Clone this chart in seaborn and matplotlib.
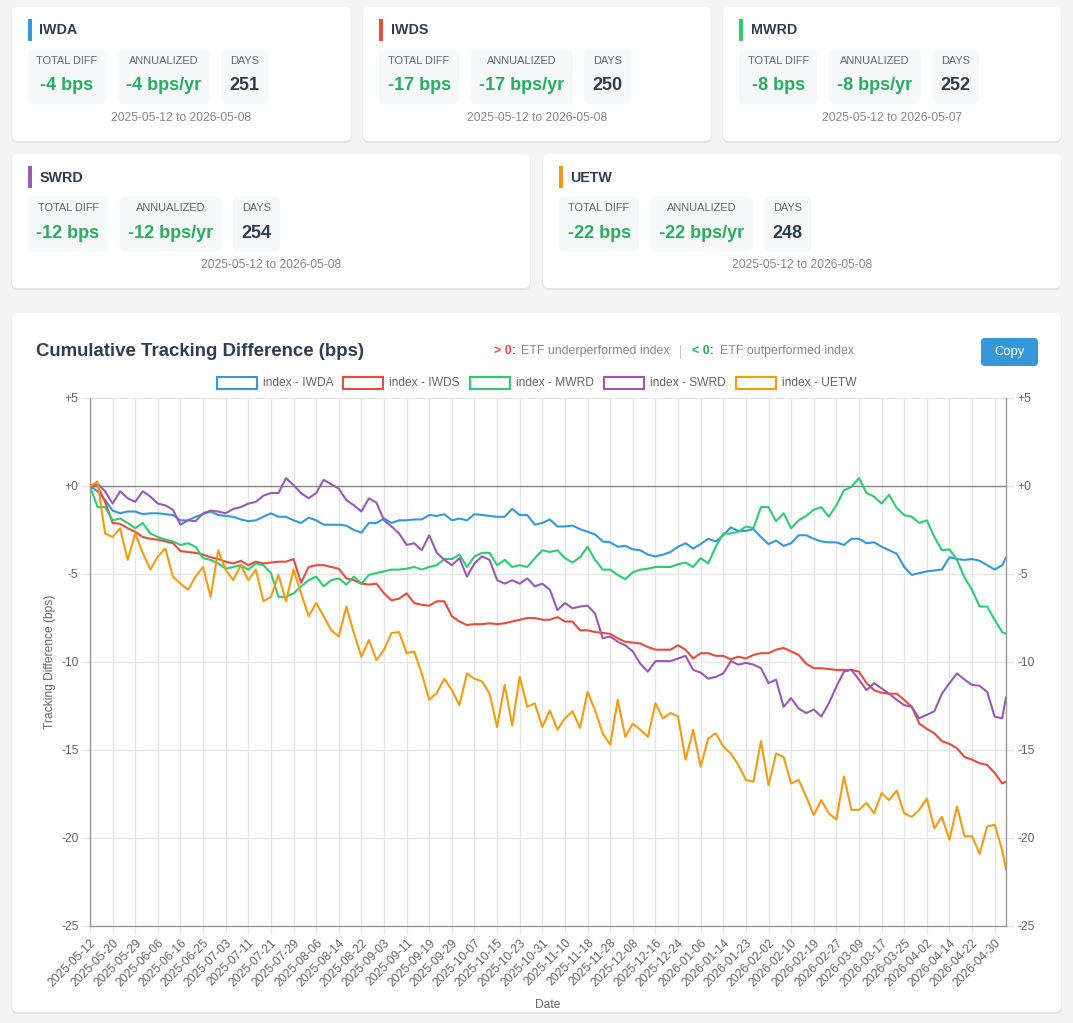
import matplotlib
matplotlib.use("Agg")
import matplotlib.pyplot as plt
from matplotlib.patches import FancyBboxPatch, Rectangle
import numpy as np
import pandas as pd
import seaborn as sns

# cumulative tracking difference (bps), every 2nd trading day
day_idx = list(range(0, 243, 2)) + [243]

iwda = [0.0, -0.3, -0.8, -1.4, -1.55, -1.45, -1.45, -1.6, -1.55, -1.55, -1.6, -1.65, -1.95, -1.95, -1.75,
        -1.6, -1.45, -1.65, -1.7, -1.75, -1.9, -2.0, -1.95, -1.75, -1.55, -1.75, -1.75, -1.95, -2.1, -1.8,
        -1.95, -2.2, -2.2, -2.2, -2.25, -2.5, -2.65, -2.1, -2.1, -1.85, -2.1, -1.95, -1.95, -1.9, -1.9,
        -1.65, -1.7, -1.6, -1.95, -1.85, -1.95, -1.6, -1.65, -1.7, -1.75, -1.75, -1.3, -1.65, -1.65, -2.2, -2.1,
        -1.9, -2.3, -2.3, -2.25, -2.45, -2.6, -2.75, -3.15, -3.2, -3.45, -3.4, -3.6, -3.65, -3.9, -4.0,
        -3.9, -3.75, -3.45, -3.25, -3.55, -3.3, -3.0, -3.15, -2.8, -2.35, -2.55, -2.55, -2.45, -2.9, -3.3,
        -3.1, -3.4, -3.25, -2.8, -2.8, -3.0, -3.15, -3.2, -3.2, -3.35, -3.0, -3.0, -3.25, -3.2, -3.45, -3.65,
        -3.85, -4.6, -5.05, -4.95, -4.85, -4.8, -4.75, -4.05, -4.15, -4.2, -4.15, -4.25, -4.5, -4.75, -4.5, -4.05]

iwds = [0.0, 0.0, -0.9, -2.1, -2.15, -2.4, -2.6, -2.9, -3.0, -3.05, -3.15, -3.25, -3.7, -3.75, -3.8,
        -3.9, -4.05, -4.15, -4.3, -4.4, -4.25, -4.5, -4.3, -4.4, -4.35, -4.3, -4.3, -4.15, -5.5, -4.6,
        -4.5, -4.5, -4.6, -4.7, -5.25, -5.35, -5.55, -5.6, -5.55, -6.1, -6.5, -6.4, -6.1, -6.65, -6.75,
        -6.8, -6.55, -6.55, -7.4, -7.7, -7.9, -7.85, -7.85, -7.8, -7.85, -7.8, -7.7, -7.6, -7.5, -7.5, -7.6,
        -7.6, -7.45, -7.7, -7.7, -8.2, -8.2, -8.3, -8.35, -8.4, -8.65, -8.85, -8.9, -8.95, -9.15, -9.3,
        -9.3, -9.3, -9.05, -9.3, -9.8, -9.5, -9.5, -9.65, -9.65, -9.85, -9.7, -9.8, -9.6, -9.5, -9.5,
        -9.3, -9.2, -9.4, -9.6, -10.1, -10.35, -10.35, -10.4, -10.45, -10.45, -10.45, -10.55, -11.2, -11.6,
        -11.75, -11.8, -11.8, -12.15, -12.55, -13.5, -13.8, -14.05, -14.5, -14.65, -14.9, -15.4, -15.55,
        -15.75, -15.85, -16.3, -16.9, -16.8]

mwrd = [0.0, -1.2, -1.2, -1.95, -1.85, -2.1, -2.4, -2.1, -2.7, -2.9, -3.05, -3.15, -3.35, -3.25, -3.45,
        -4.1, -4.2, -4.4, -4.7, -4.6, -4.5, -4.75, -4.4, -4.5, -4.95, -6.3, -6.3, -6.1, -5.7, -5.35,
        -5.15, -5.7, -5.35, -5.25, -5.6, -5.15, -5.55, -5.05, -4.95, -4.85, -4.75, -4.75, -4.7, -4.6, -4.75,
        -4.6, -4.5, -4.15, -4.15, -3.9, -4.6, -4.0, -3.8, -3.8, -4.5, -4.2, -4.6, -4.5, -4.6, -4.1, -3.65,
        -3.75, -3.65, -4.1, -4.35, -4.05, -3.45, -4.2, -4.75, -4.75, -5.05, -5.3, -4.9, -4.75, -4.7, -4.6,
        -4.6, -4.6, -4.45, -4.35, -4.6, -4.1, -4.4, -3.45, -2.7, -2.7, -2.6, -2.3, -2.4, -1.2, -1.2,
        -2.0, -1.55, -2.4, -1.95, -1.7, -1.35, -1.2, -1.75, -1.1, -0.25, -0.05, 0.45, -0.4, -0.6, -1.0,
        -0.5, -1.25, -1.65, -1.75, -2.1, -1.95, -2.9, -3.65, -3.6, -4.2, -5.2, -5.9, -6.85, -6.85, -7.6,
        -8.3, -8.4]

swrd = [0.0, 0.15, -0.3, -1.0, -0.3, -0.7, -0.9, -0.3, -0.6, -1.0, -1.1, -1.35, -2.2, -1.95, -2.0,
        -1.55, -1.4, -1.45, -1.55, -1.3, -1.2, -1.0, -0.9, -0.55, -0.4, -0.4, 0.45, 0.05, -0.4, -0.7,
        -0.4, 0.35, 0.1, -0.15, -0.8, -1.1, -1.45, -0.7, -0.95, -1.95, -2.3, -2.7, -3.35, -3.25, -3.65,
        -2.8, -3.8, -4.2, -4.5, -4.1, -5.15, -4.4, -4.0, -4.2, -5.35, -5.55, -5.35, -5.55, -5.25, -5.7, -5.55,
        -5.9, -7.05, -6.65, -6.95, -6.85, -6.8, -7.25, -8.65, -8.55, -8.85, -9.05, -9.4, -10.1, -10.55,
        -9.95, -9.95, -9.95, -9.8, -9.65, -10.45, -10.6, -10.95, -10.85, -10.65, -9.95, -10.15, -10.05,
        -10.15, -10.35, -11.2,
        -11.0, -12.55, -12.05, -12.65, -12.9, -12.7, -13.1, -12.35, -11.4, -10.55, -10.45, -11.0, -11.6,
        -11.2, -11.5, -11.8, -12.15, -12.45, -12.55, -13.2, -13.0, -12.8, -11.8, -11.2, -10.65, -11.0,
        -11.3, -11.35, -11.7, -13.1, -13.2, -12.0]

uetw = [0.0, 0.25, -2.7, -2.9, -2.4, -4.2, -2.7, -3.8, -4.75, -4.0, -3.55, -5.15, -5.55, -5.9, -5.15,
        -4.6, -6.3, -3.65, -4.75, -5.35, -4.5, -5.35, -4.75, -6.55, -6.3, -5.05, -6.55, -4.75, -6.1, -7.4,
        -6.65, -7.4, -8.2, -8.55, -6.85, -8.35, -9.7, -8.75, -9.9, -9.3, -8.35, -8.3, -9.5, -9.4, -10.65,
        -12.15, -11.75, -10.95, -11.6, -12.45, -10.65, -10.95, -11.1, -11.8, -13.7, -11.3, -13.6, -10.85,
        -12.55, -12.35, -13.7,
        -12.75, -13.85, -13.2, -12.8, -13.75, -11.7, -12.75, -14.05, -14.7, -12.15, -14.25, -13.5, -13.85,
        -14.25, -12.35, -13.2, -12.9, -13.1, -15.55, -13.85, -15.95, -14.35, -14.05, -14.8, -15.2, -15.85,
        -16.7, -16.8, -14.5, -17.0,
        -15.2, -15.4, -16.9, -16.7, -17.65, -18.7, -17.85, -18.6, -18.95, -16.5, -18.4, -18.4, -18.0, -18.6,
        -17.45, -17.85, -17.3, -18.6, -18.8, -18.4, -17.75, -19.45, -18.8, -20.1, -18.2, -19.9, -19.9, -20.9,
        -19.35, -19.25, -20.7, -21.8]

etfs = ["IWDA", "IWDS", "MWRD", "SWRD", "UETW"]
colors = ["#3498db", "#e74c3c", "#2ecc71", "#9b59b6", "#f39c12"]
total_diff = [-4, -17, -8, -12, -22]
annualized = [-4, -17, -8, -12, -22]
days = [251, 250, 252, 254, 248]
start_dates = ["2025-05-12", "2025-05-12", "2025-05-12", "2025-05-12", "2025-05-12"]
end_dates = ["2026-05-08", "2026-05-08", "2026-05-07", "2026-05-08", "2026-05-08"]

date_ticks = ["2025-05-12", "2025-05-20", "2025-05-29", "2025-06-06", "2025-06-16", "2025-06-25",
              "2025-07-03", "2025-07-11", "2025-07-21", "2025-07-29", "2025-08-06", "2025-08-14",
              "2025-08-22", "2025-09-03", "2025-09-11", "2025-09-19", "2025-09-29", "2025-10-07",
              "2025-10-15", "2025-10-23", "2025-10-31", "2025-11-10", "2025-11-18", "2025-11-28",
              "2025-12-08", "2025-12-16", "2025-12-24", "2026-01-06", "2026-01-14", "2026-01-23",
              "2026-02-02", "2026-02-10", "2026-02-19", "2026-02-27", "2026-03-09", "2026-03-17",
              "2026-03-25", "2026-04-02", "2026-04-14", "2026-04-22", "2026-04-30"]
y_ticks = [-25, -20, -15, -10, -5, 0, 5]
y_tick_labels = ["-25", "-20", "-15", "-10", "-5", "+0", "+5"]

W, H = 1073, 1023
sns.set_theme(style="white")
plt.rcParams["font.family"] = ["Liberation Sans", "DejaVu Sans"]


def px(v):
    # css pixels -> points at 100 dpi
    return v * 0.72


fig = plt.figure(figsize=(W / 100, H / 100), dpi=100, facecolor="#f4f4f4")
bg = fig.add_axes([0, 0, 1, 1])
bg.set_xlim(0, W)
bg.set_ylim(H, 0)
bg.axis("off")
renderer = fig.canvas.get_renderer()


def text_w(t):
    return t.get_window_extent(renderer).width


def panel(x0, y0, x1, y1, r=6):
    bg.add_patch(FancyBboxPatch((x0 - 0.5, y0 + 1), x1 - x0 + 1, y1 - y0 + 1,
                                boxstyle=f"round,pad=0,rounding_size={r}", fc="#e4e4e4", ec="none", zorder=1))
    bg.add_patch(FancyBboxPatch((x0, y0), x1 - x0, y1 - y0,
                                boxstyle=f"round,pad=0,rounding_size={r}", fc="white", ec="none", zorder=2))


# summary cards
card_boxes = [(12, 7, 351, 141), (363, 7, 711, 141), (723, 7, 1061, 141),
              (12, 154, 530, 288), (543, 154, 1061, 288)]
for i, (x0, y0, x1, y1) in enumerate(card_boxes):
    panel(x0, y0, x1, y1)
    bg.add_patch(Rectangle((x0 + 16, y0 + 12), 4, 22, fc=colors[i], ec="none", zorder=3))
    bg.text(x0 + 27.5, y0 + 23.5, etfs[i], fontsize=px(14.3), fontweight="bold", color="#2c3e50",
            va="center", zorder=4)
    stats = [("TOTAL DIFF", f"{total_diff[i]} bps", "#27ae60"),
             ("ANNUALIZED", f"{annualized[i]} bps/yr", "#27ae60"),
             ("DAYS", str(days[i]), "#2c3e50")]
    x = x0 + 16
    for lab, val, vc in stats:
        t1 = bg.text(x, y0 + 54, lab, fontsize=px(11), color="#666666", ha="center", va="center", zorder=4)
        t2 = bg.text(x, y0 + 79, val, fontsize=px(18), fontweight="bold", color=vc,
                     ha="center", va="center", zorder=4)
        w = max(text_w(t1), text_w(t2)) + 17
        bg.add_patch(FancyBboxPatch((x, y0 + 43), w, 54, boxstyle="round,pad=0,rounding_size=5",
                                    fc="#f6f8fa", ec="none", zorder=3))
        t1.set_x(x + w / 2)
        t2.set_x(x + w / 2)
        x += w + 11.5
    bg.text((x0 + x1) / 2, y0 + 111, f"{start_dates[i]} to {end_dates[i]}", fontsize=px(12),
            color="#888888", ha="center", va="center", zorder=4)

# chart panel + header
panel(12, 313, 1061, 1012)
bg.text(36, 352, "Cumulative Tracking Difference (bps)", fontsize=px(18.6), fontweight="bold",
        color="#2c3e50", va="center", zorder=4)
bg.text(494, 351, "> 0:", fontsize=px(12.4), fontweight="bold", color="#e74c3c", va="center", zorder=4)
bg.text(521, 351, "ETF underperformed index", fontsize=px(12.4), color="#888888", va="center", zorder=4)
bg.plot([680, 680], [345, 358], color="#cccccc", lw=0.8, zorder=4)
bg.text(692, 351, "< 0:", fontsize=px(12.4), fontweight="bold", color="#27ae60", va="center", zorder=4)
bg.text(720, 351, "ETF outperformed index", fontsize=px(12.4), color="#888888", va="center", zorder=4)
bg.add_patch(FancyBboxPatch((981, 338), 57, 28, boxstyle="round,pad=0,rounding_size=4",
                            fc="#3498db", ec="none", zorder=3))
bg.text(1009.5, 352.5, "Copy", fontsize=px(13), color="white", ha="center", va="center", zorder=4)

# legend row
leg_labels = [f"index - {e}" for e in etfs]
leg_texts = []
total = 0
for lab in leg_labels:
    t = bg.text(0, 383, lab, fontsize=px(12), color="#666666", va="center", zorder=4)
    leg_texts.append(t)
    total += 40 + 6 + text_w(t)
total += 10 * (len(leg_labels) - 1)
lx = 536.5 - total / 2
for c, t in zip(colors, leg_texts):
    bg.add_patch(Rectangle((lx, 377), 40, 12, fc="white", ec=c, lw=1.5, zorder=4))
    t.set_x(lx + 46)
    lx += 46 + text_w(t) + 10

# line chart
df = pd.DataFrame({"day": day_idx, "index - IWDA": iwda, "index - IWDS": iwds, "index - MWRD": mwrd,
                   "index - SWRD": swrd, "index - UETW": uetw})
long_df = df.melt(id_vars="day", var_name="series", value_name="td")

ax = fig.add_axes([90 / W, 1 - 926 / H, 916 / W, 528 / H])
ax.set_facecolor("none")
sns.lineplot(data=long_df, x="day", y="td", hue="series", hue_order=leg_labels,
             palette=dict(zip(leg_labels, colors)), linewidth=1.5, estimator=None, sort=False,
             legend=False, ax=ax)
ax.axhline(0, color="#888888", lw=1, zorder=1.5)

ax.set_xlim(0, 243)
ax.set_ylim(-25, 5)
ax.set_xticks(np.arange(0, 241, 6))
ax.set_xticklabels(date_ticks, rotation=45, ha="right", rotation_mode="anchor")
ax.set_yticks(y_ticks)
ax.set_yticklabels(y_tick_labels)
ax.grid(True, color="#e6e6e6", lw=1)
ax.set_axisbelow(True)
for s in ["left", "right", "bottom"]:
    ax.spines[s].set_color("#999999")
    ax.spines[s].set_linewidth(1)
ax.spines["top"].set_visible(False)
ax.tick_params(axis="both", length=5.8, width=1, color="#e6e6e6", labelcolor="#666666",
               labelsize=px(12))
ax.tick_params(axis="y", left=True, right=True, labelright=True, pad=2.5)
ax.tick_params(axis="x", bottom=True, pad=2)

ax.set_ylabel("Tracking Difference (bps)", fontsize=px(12), color="#666666")
ax.yaxis.set_label_coords(-34 / 916, 0.5)
ax.set_xlabel("Date", fontsize=px(12), color="#666666")
ax.xaxis.set_label_coords(0.5, -(999 - 926) / 528)

fig.savefig("out.png", dpi=100, facecolor=fig.get_facecolor())
